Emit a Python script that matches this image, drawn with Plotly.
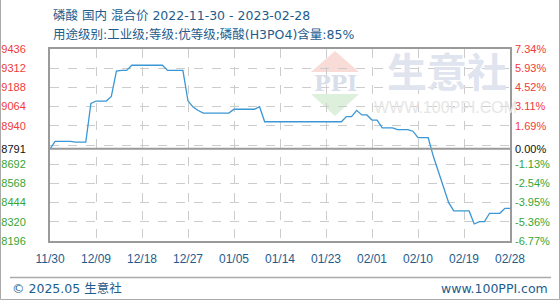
import plotly.graph_objects as go
import pandas as pd

# ---------------- data ----------------
start_date = "2022-11-30"
end_date = "2023-02-28"
dates = pd.date_range(start_date, end_date, freq="D")

prices = [
    8791, 8840, 8840, 8840, 8840, 8834, 8834, 8834, 9085, 9100,
    9100, 9100, 9130, 9294, 9298, 9298, 9331, 9331, 9331, 9331,
    9331, 9331, 9331, 9298, 9298, 9298, 9298, 9100, 9061, 9039,
    9022, 9022, 9022, 9022, 9022, 9022, 9047, 9047, 9047, 9047,
    9047, 9063, 8966, 8966, 8966, 8966, 8966, 8966, 8966, 8966,
    8966, 8966, 8966, 8966, 8966, 8966, 8966, 8966, 8999, 8999,
    9040, 9010, 9010, 8977, 8977, 8926, 8926, 8926, 8915, 8915,
    8915, 8905, 8863, 8863, 8863, 8743, 8640, 8532, 8444, 8390,
    8390, 8390, 8390, 8306, 8321, 8321, 8375, 8375, 8375, 8407,
    8407,
]

base_price = 8791
y_label_vals = [9436, 9312, 9188, 9064, 8940, 8791, 8692, 8568, 8444, 8320, 8196]
y_grid_extra = [8816]
pct_labels = ["7.34%", "5.93%", "4.52%", "3.11%", "1.69%", "0.00%",
              "-1.13%", "-2.54%", "-3.95%", "-5.36%", "-6.77%"]
x_tick_dates = ["2022-11-30", "2022-12-09", "2022-12-18", "2022-12-27", "2023-01-05",
                "2023-01-14", "2023-01-23", "2023-02-01", "2023-02-10", "2023-02-19",
                "2023-02-28"]
x_tick_labels = ["11/30", "12/09", "12/18", "12/27", "01/05", "01/14",
                 "01/23", "02/01", "02/10", "02/19", "02/28"]

title1 = "磷酸 国内 混合价 2022-11-30 - 2023-02-28"
title2 = "用途级别:工业级;等级:优等级;磷酸(H3PO4)含量:85%"
footer_left = "© 2025.05 生意社"
footer_right = "www.100PPI.com"

# ---------------- layout helpers ----------------
W, H = 560, 300
L, R, T, B = 50, 50, 49, 59
PW, PH = W - L - R, H - T - B


def px(x):
    return (x - L) / PW


def py(y):
    return (H - B - y) / PH


RED = "#f23a3a"
GREEN = "#35a535"
BLACK = "#111111"
BLUE_TXT = "#1e5c8c"
FONT = "DejaVu Sans, Noto Sans CJK SC, sans-serif"
TICKFONT = "Liberation Sans, Arial, Noto Sans CJK SC, sans-serif"


def col(v):
    if v > base_price:
        return RED
    if v < base_price:
        return GREEN
    return BLACK


tickvals = y_label_vals + y_grid_extra
left_text = [f"<span style='color:{col(v)}'>{v}</span>" for v in y_label_vals] + [""]
right_text = [f"<span style='color:{col(v)}'>{p}</span>" for v, p in zip(y_label_vals, pct_labels)] + [""]

fig = go.Figure()
fig.add_trace(go.Scatter(x=dates, y=prices, mode="lines",
                         line=dict(color="#3a96d4", width=1.3),
                         hoverinfo="skip", showlegend=False))
fig.add_trace(go.Scatter(x=dates, y=prices, mode="lines", yaxis="y2",
                         line=dict(color="rgba(0,0,0,0)", width=0),
                         hoverinfo="skip", showlegend=False))

yr = [min(y_label_vals), max(y_label_vals)]

fig.update_layout(
    width=W, height=H,
    margin=dict(l=L, r=R, t=T, b=B, pad=0, autoexpand=False),
    paper_bgcolor="white", plot_bgcolor="white",
    font=dict(family=FONT, size=12, color=BLUE_TXT),
    xaxis=dict(
        type="date", automargin=False,
        range=[start_date, end_date],
        tickvals=x_tick_dates, ticktext=x_tick_labels,
        tickfont=dict(family=TICKFONT, size=12, color=BLUE_TXT),
        ticks="", ticklabelstandoff=6,
        showgrid=True, gridcolor="#cccccc", griddash="dash", gridwidth=1,
        showline=True, mirror=True, linecolor="#9a9a9a", linewidth=2,
        zeroline=False, fixedrange=True,
    ),
    yaxis=dict(
        range=yr, automargin=False,
        tickvals=tickvals, ticktext=left_text,
        tickfont=dict(family=TICKFONT, size=11),
        ticks="", ticklabelstandoff=20,
        showgrid=True, gridcolor="#cccccc", griddash="dash", gridwidth=1,
        showline=True, mirror=True, linecolor="#9a9a9a", linewidth=2,
        zeroline=False, fixedrange=True,
    ),
    yaxis2=dict(
        range=yr, overlaying="y", side="right", automargin=False,
        tickvals=tickvals, ticktext=right_text,
        tickfont=dict(family=TICKFONT, size=11),
        ticks="", ticklabelstandoff=4,
        showgrid=False, showline=False, zeroline=False, fixedrange=True,
    ),
)

shapes = []
# watermark logo
shapes.append(dict(type="path", xref="paper", yref="paper", layer="below",
                   path=f"M {px(335)} {py(51)} L {px(311)} {py(72)} L {px(359)} {py(72)} Z",
                   fillcolor="#f9dcd8", line=dict(width=0)))
shapes.append(dict(type="path", xref="paper", yref="paper", layer="below",
                   path=f"M {px(311)} {py(94)} L {px(359)} {py(94)} L {px(335)} {py(116)} Z",
                   fillcolor="#dcf0dc", line=dict(width=0)))
# baseline
shapes.append(dict(type="line", xref="paper", yref="y", x0=0, x1=1,
                   y0=base_price, y1=base_price, line=dict(color="#9a9a9a", width=2)))
# footer rule
shapes.append(dict(type="line", xref="paper", yref="paper",
                   x0=px(10), x1=px(551), y0=py(277.5), y1=py(277.5),
                   line=dict(color="#aaaaaa", width=1.5)))
# outer frame (left, bottom, right)
shapes.append(dict(type="path", xref="paper", yref="paper",
                   path=f"M {px(0.5)} {py(0)} L {px(0.5)} {py(299.5)} L {px(559.5)} {py(299.5)} L {px(559.5)} {py(0)}",
                   line=dict(color="#aaaaaa", width=1)))
fig.update_layout(shapes=shapes)

ann = []
ann.append(dict(text=title1, x=px(51), y=py(15), xref="paper", yref="paper",
                xanchor="left", yanchor="middle", showarrow=False,
                font=dict(family=FONT, size=12.5, color=BLUE_TXT)))
ann.append(dict(text=title2, x=px(51), y=py(35), xref="paper", yref="paper",
                xanchor="left", yanchor="middle", showarrow=False,
                font=dict(family=FONT, size=12.5, color=BLUE_TXT)))
ann.append(dict(text=footer_left, x=px(10), y=py(288), xref="paper", yref="paper",
                xanchor="left", yanchor="middle", showarrow=False,
                font=dict(family=FONT, size=12.5, color=BLUE_TXT)))
ann.append(dict(text=footer_right, x=px(550), y=py(288), xref="paper", yref="paper",
                xanchor="right", yanchor="middle", showarrow=False,
                font=dict(family=FONT, size=12.5, color=BLUE_TXT)))
# watermark texts
ann.append(dict(text="<b>PPI</b>", x=px(335), y=py(83), xref="paper", yref="paper",
                xanchor="center", yanchor="middle", showarrow=False,
                font=dict(family="DejaVu Serif, serif", size=22, color="#d8deea")))
ann.append(dict(text="<b>生意社</b>", x=px(447), y=py(70), xref="paper", yref="paper",
                xanchor="center", yanchor="middle", showarrow=False,
                font=dict(family="Noto Sans CJK SC", size=40, color="#dfe4ee")))
ann.append(dict(text="WWW.100PPI.COM", x=px(445), y=py(107), xref="paper", yref="paper",
                xanchor="center", yanchor="middle", showarrow=False,
                font=dict(family="Liberation Sans, Arial", size=16, color="#e6e6e6")))
fig.update_layout(annotations=ann)

fig.write_html("out.html")
